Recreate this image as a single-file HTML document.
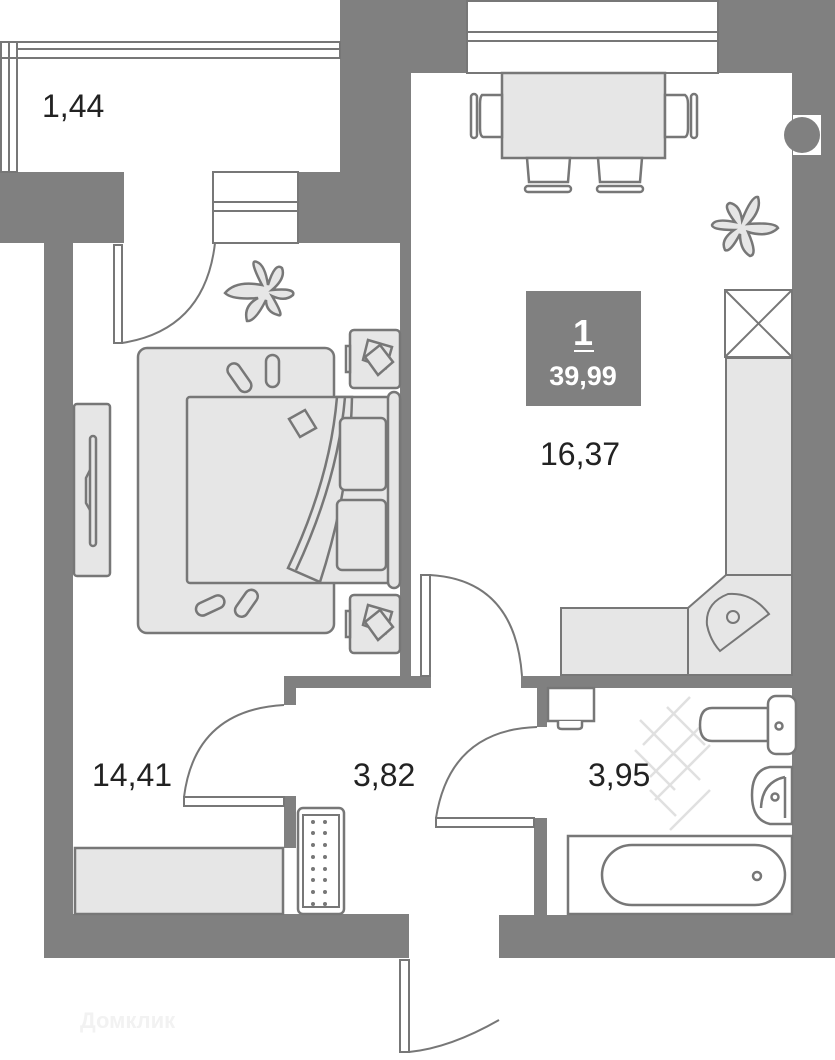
<!DOCTYPE html>
<html><head><meta charset="utf-8"><style>
html,body{margin:0;padding:0;background:#fff}
svg{display:block}
text{font-family:"Liberation Sans",sans-serif}
</style></head><body>
<svg width="835" height="1060" viewBox="0 0 835 1060" xmlns="http://www.w3.org/2000/svg">
<g fill="#808080">
<!-- top walls -->
<rect x="340" y="0" width="128" height="73"/>
<rect x="340" y="0" width="71" height="243"/>
<rect x="298" y="172" width="113" height="71"/>
<rect x="718" y="0" width="117" height="73"/>
<rect x="792" y="0" width="43" height="958"/>
<rect x="400" y="72" width="11" height="616"/>
<!-- left -->
<rect x="0" y="172" width="124" height="71"/>
<rect x="44" y="243" width="29" height="715"/>
<rect x="44" y="914" width="365" height="44"/>
<rect x="499" y="915" width="336" height="43"/>
<!-- hall/bedroom -->
<rect x="284" y="676" width="147" height="12"/>
<rect x="284" y="676" width="12" height="29"/>
<rect x="284" y="796" width="12" height="52"/>
<rect x="521" y="676" width="271" height="12"/>
<rect x="537" y="676" width="10" height="51"/>
<rect x="534" y="818" width="13" height="97"/>
</g>
<g fill="none" stroke="#777" stroke-width="2">
<!-- balcony rail -->
<rect x="1" y="42" width="339" height="16"/>
<line x1="17" y1="49" x2="340" y2="49"/>
<rect x="1" y="42" width="16" height="130"/>
<line x1="9" y1="42" x2="9" y2="172"/>
<!-- top window -->
<rect x="467" y="1" width="251" height="72" fill="#fff"/>
<line x1="467" y1="32" x2="718" y2="32"/><line x1="467" y1="41" x2="718" y2="41"/>
<!-- balcony window -->
<rect x="213" y="172" width="85" height="71" fill="#fff"/>
<line x1="213" y1="202" x2="298" y2="202"/><line x1="213" y1="211" x2="298" y2="211"/>
<!-- balcony door -->
<rect x="114" y="245" width="8" height="98" fill="#fff"/>
<path d="M122 343 Q205 330 215 243"/>
<!-- kitchen door -->
<rect x="421" y="575" width="9" height="101" fill="#fff"/>
<path d="M430 575 Q515 580 522 676"/>
<!-- bedroom door -->
<rect x="184" y="797" width="100" height="9" fill="#fff"/>
<path d="M184 797 Q195 710 284 705"/>
<!-- bathroom door -->
<rect x="436" y="818" width="98" height="9" fill="#fff"/>
<path d="M436 818 Q450 730 537 727"/>
<!-- entrance door -->
<rect x="400" y="960" width="9" height="92" fill="#fff"/>
<path d="M409 1052 Q450 1048 499 1020"/>
<!-- column -->
<rect x="793" y="115" width="28" height="40" fill="#fff" stroke="none"/>
</g>
<circle cx="802" cy="135" r="18" fill="#808080"/>
<!-- dining -->
<g stroke="#777" stroke-width="2.5" fill="#e6e6e6">
<rect x="502" y="73" width="163" height="85"/>
<path d="M502 95 L482 95 Q480 97 480 104 L480 128 Q480 136 483 137 L502 137Z" fill="#fff"/>
<rect x="471" y="94" width="6" height="44" rx="3" fill="#fff"/>
<path d="M665 95 L685 95 Q688 97 688 104 L688 128 Q688 136 685 137 L665 137Z" fill="#fff"/>
<rect x="691" y="94" width="6" height="44" rx="3" fill="#fff"/>
<path d="M527 158 L529 182 L568 182 L570 158Z" fill="#fff"/>
<rect x="525" y="186" width="46" height="6" rx="3" fill="#fff"/>
<path d="M598 158 L600 182 L640 182 L642 158Z" fill="#fff"/>
<rect x="597" y="186" width="46" height="6" rx="3" fill="#fff"/>
</g>
<!-- plants -->
<g stroke="#777" stroke-width="2.5" fill="#e6e6e6">
<path d="M262 285 Q248 258 257 262 Q265 265 268 285 Q275 262 282 268 Q286 278 272 290 Q296 288 293 295 Q285 302 272 296 Q285 318 278 315 Q266 312 266 300 Q255 322 247 321 Q243 306 258 298 Q232 300 225 293 Q236 280 262 285Z"/>
<path d="M735 222 Q722 205 730 203 Q740 205 742 220 Q752 195 758 197 Q762 210 748 224 Q775 222 778 228 Q768 238 748 232 Q758 255 750 256 Q740 250 740 234 Q730 253 725 250 Q720 240 734 230 Q712 230 712 225 Q715 218 735 222Z"/>
</g>
<!-- kitchen -->
<g stroke="#777" stroke-width="2" fill="#e6e6e6">
<rect x="725" y="290" width="67" height="67" fill="#fff"/>
<line x1="725" y1="290" x2="792" y2="357"/><line x1="792" y1="290" x2="725" y2="357"/>
<rect x="726" y="358" width="66" height="217"/>
<path d="M726 575 L792 575 L792 675 L688 675 L688 608Z"/>
<rect x="561" y="608" width="127" height="67"/>
<path d="M720 651 L769 614 Q752 592 728 594 Q705 603 707 625 Q710 640 720 651Z" fill="none"/>
<circle cx="733" cy="617" r="6" fill="none"/>
</g>
<!-- summary box -->
<rect x="526" y="291" width="115" height="115" fill="#808080"/>
<text x="583" y="345" font-size="36" fill="#fff" text-anchor="middle" font-weight="bold">1</text>
<rect x="574" y="350" width="20" height="2" fill="#fff"/>
<text x="583" y="385" font-size="27" fill="#fff" text-anchor="middle" font-weight="bold">39,99</text>
<!-- bedroom -->
<g stroke="#777" stroke-width="2.5" fill="#e6e6e6">
<rect x="74" y="404" width="36" height="172" rx="3"/>
<rect x="90" y="436" width="6" height="110" rx="3" fill="none"/>
<path d="M90 470 L86 478 L86 503 L90 510" fill="none"/>
<rect x="138" y="348" width="196" height="285" rx="9"/>
<rect x="187" y="397" width="213" height="186" rx="3"/>
<path d="M337 397 Q330 480 288 568 L320 582 Q350 490 352 397Z" fill="#e6e6e6"/>
<path d="M345 397 Q338 480 296 570" fill="none"/>
<rect x="340" y="418" width="46" height="72" rx="5"/>
<rect x="337" y="500" width="49" height="70" rx="5"/>
<rect x="388" y="392" width="12" height="196" rx="6"/>
<rect x="350" y="330" width="50" height="58" rx="4"/>
<rect x="350" y="595" width="50" height="58" rx="4"/>
<rect x="346" y="346" width="4" height="26" fill="none"/>
<rect x="346" y="611" width="4" height="26" fill="none"/>
<path d="M368 340 L392 347 L386 368 L363 360Z"/>
<path d="M365 357 L380 345 L393 362 L378 375Z"/>
<path d="M368 605 L392 612 L386 633 L363 625Z"/>
<path d="M365 622 L380 610 L393 627 L378 640Z"/>
<path d="M289 419 L305 410 L316 428 L300 437Z"/>
<rect x="266" y="355" width="13" height="32" rx="6.5"/>
<rect x="233" y="362" width="13" height="32" rx="6.5" transform="rotate(-35 239 378)"/>
<rect x="204" y="590" width="13" height="30" rx="6.5" transform="rotate(65 210 605)"/>
<rect x="240" y="588" width="13" height="30" rx="6.5" transform="rotate(35 246 603)"/>
<rect x="75" y="848" width="208" height="66"/>
</g>
<!-- hall radiator -->
<rect x="298" y="808" width="46" height="106" rx="5" fill="#fff" stroke="#777" stroke-width="2.5"/>
<rect x="303" y="815" width="36" height="92" fill="none" stroke="#777" stroke-width="2"/>
<g fill="#777">
<circle cx="313" cy="822" r="2"/><circle cx="325" cy="822" r="2"/>
<circle cx="313" cy="833" r="2"/><circle cx="325" cy="833" r="2"/>
<circle cx="313" cy="845" r="2"/><circle cx="325" cy="845" r="2"/>
<circle cx="313" cy="857" r="2"/><circle cx="325" cy="857" r="2"/>
<circle cx="313" cy="869" r="2"/><circle cx="325" cy="869" r="2"/>
<circle cx="313" cy="880" r="2"/><circle cx="325" cy="880" r="2"/>
<circle cx="313" cy="892" r="2"/><circle cx="325" cy="892" r="2"/>
<circle cx="313" cy="904" r="2"/><circle cx="325" cy="904" r="2"/>
</g>
<!-- bathroom -->
<g stroke="#e0e0e0" stroke-width="2.5">
<line x1="643" y1="745" x2="690" y2="697"/><line x1="650" y1="777" x2="705" y2="722"/>
<line x1="655" y1="800" x2="710" y2="745"/><line x1="670" y1="830" x2="710" y2="790"/>
<line x1="667" y1="707" x2="705" y2="745"/><line x1="640" y1="720" x2="700" y2="780"/>
<line x1="635" y1="750" x2="675" y2="790"/><line x1="650" y1="790" x2="676" y2="816"/>
</g>
<g stroke="#777" stroke-width="2.5" fill="#fff">
<rect x="548" y="688" width="46" height="33"/>
<path d="M558 721 L558 726 Q558 729 562 729 L578 729 Q582 729 582 726 L582 721"/>
<path d="M768 708 L712 708 Q700 708 700 725 Q700 741 712 741 L768 741Z"/>
<rect x="768" y="696" width="28" height="58" rx="8"/>
<circle cx="779" cy="726" r="3.5"/>
<path d="M792 767 L770 767 Q752 770 752 795 Q752 820 770 824 L792 824Z"/>
<path d="M785 777 Q762 782 761 808" fill="none"/>
<line x1="785" y1="777" x2="785" y2="818"/>
<circle cx="775" cy="797" r="3.5"/>
<rect x="568" y="836" width="224" height="78"/>
<rect x="602" y="845" width="183" height="60" rx="30"/>
<circle cx="757" cy="876" r="4"/>
</g>
<!-- labels -->
<g fill="#222" font-size="32">
<text x="42" y="117">1,44</text>
<text x="540" y="465">16,37</text>
<text x="92" y="786">14,41</text>
<text x="353" y="786">3,82</text>
<text x="588" y="786">3,95</text>
</g>
<text x="80" y="1028" font-size="22" font-weight="bold" fill="#f2f2f2">Домклик</text>
</svg>
</body></html>
